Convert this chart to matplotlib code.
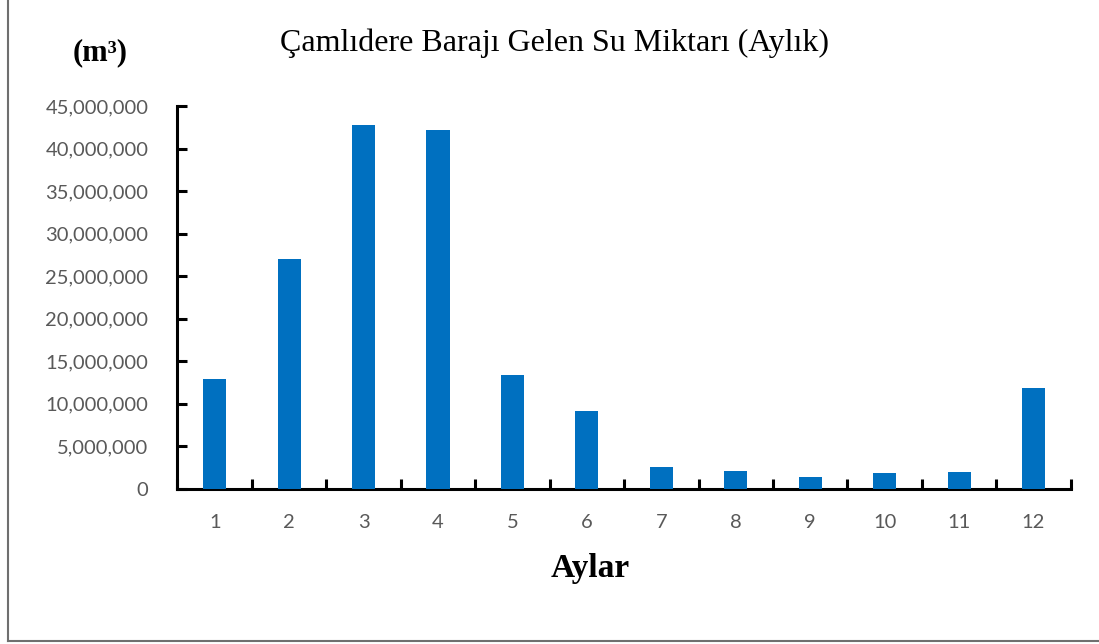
import matplotlib
matplotlib.use("Agg")
import matplotlib.pyplot as plt
from matplotlib.lines import Line2D
from matplotlib.ticker import FuncFormatter, FixedLocator

months = [1, 2, 3, 4, 5, 6, 7, 8, 9, 10, 11, 12]
month_labels = [str(m) for m in months]
inflow = [12.9e6, 27.0e6, 42.8e6, 42.2e6, 13.35e6, 9.15e6, 2.55e6, 2.08e6, 1.37e6, 1.8e6, 1.96e6, 11.8e6]

title = "Çamlıdere Barajı Gelen Su Miktarı (Aylık)"
unit_label = "(m³)"
x_label = "Aylar"

fig = plt.figure(figsize=(10.99, 6.44), dpi=100)
ax = fig.add_axes([0.1615, 0.2411, 0.9743 - 0.1615, 0.8354 - 0.2411])

ax.bar(months, inflow, width=0.31, color="#0070C0", zorder=3)
ax.set_xlim(0.5, 12.5)
ax.set_ylim(0, 45e6)
ax.set_yticks([i * 5e6 for i in range(10)])
ax.yaxis.set_major_formatter(FuncFormatter(lambda v, p: f"{int(v):,}"))
ax.set_xticks(months)
ax.set_xticklabels(month_labels)
ax.xaxis.set_minor_locator(FixedLocator([m + 0.5 for m in [0] + months]))

for s in ["top", "right"]:
    ax.spines[s].set_visible(False)
for s in ["left", "bottom"]:
    ax.spines[s].set_linewidth(2.2)
    ax.spines[s].set_color("black")

ax.tick_params(axis="y", direction="in", length=7, width=2.2, pad=21, labelcolor="#595959", labelsize=14.5)
ax.tick_params(axis="x", which="major", length=0, pad=18, labelcolor="#595959", labelsize=14.5)
ax.tick_params(axis="x", which="minor", direction="in", length=7, width=2.2)
for lab in ax.get_xticklabels() + ax.get_yticklabels():
    lab.set_fontfamily(["Lato", "DejaVu Sans"])

fig.text(0.505, 0.933, title, ha="center", va="center", fontsize=23,
         family=["Liberation Serif", "DejaVu Serif"], color="black")
fig.text(0.091, 0.918, unit_label, ha="center", va="center", fontsize=22,
         family=["Liberation Serif", "DejaVu Serif"], fontweight="bold", color="black")
fig.text(0.537, 0.118, x_label, ha="center", va="center", fontsize=24,
         family=["Liberation Serif", "DejaVu Serif"], fontweight="bold", color="black")

fig.add_artist(Line2D([7.5 / 1099, 7.5 / 1099], [1 - 641 / 644, 1.0], transform=fig.transFigure,
                      color="#6f6f6f", linewidth=1.5))
fig.add_artist(Line2D([7.5 / 1099, 1.0], [1 - 641 / 644, 1 - 641 / 644], transform=fig.transFigure,
                      color="#6f6f6f", linewidth=1.5))

fig.savefig("out.png", dpi=100)
